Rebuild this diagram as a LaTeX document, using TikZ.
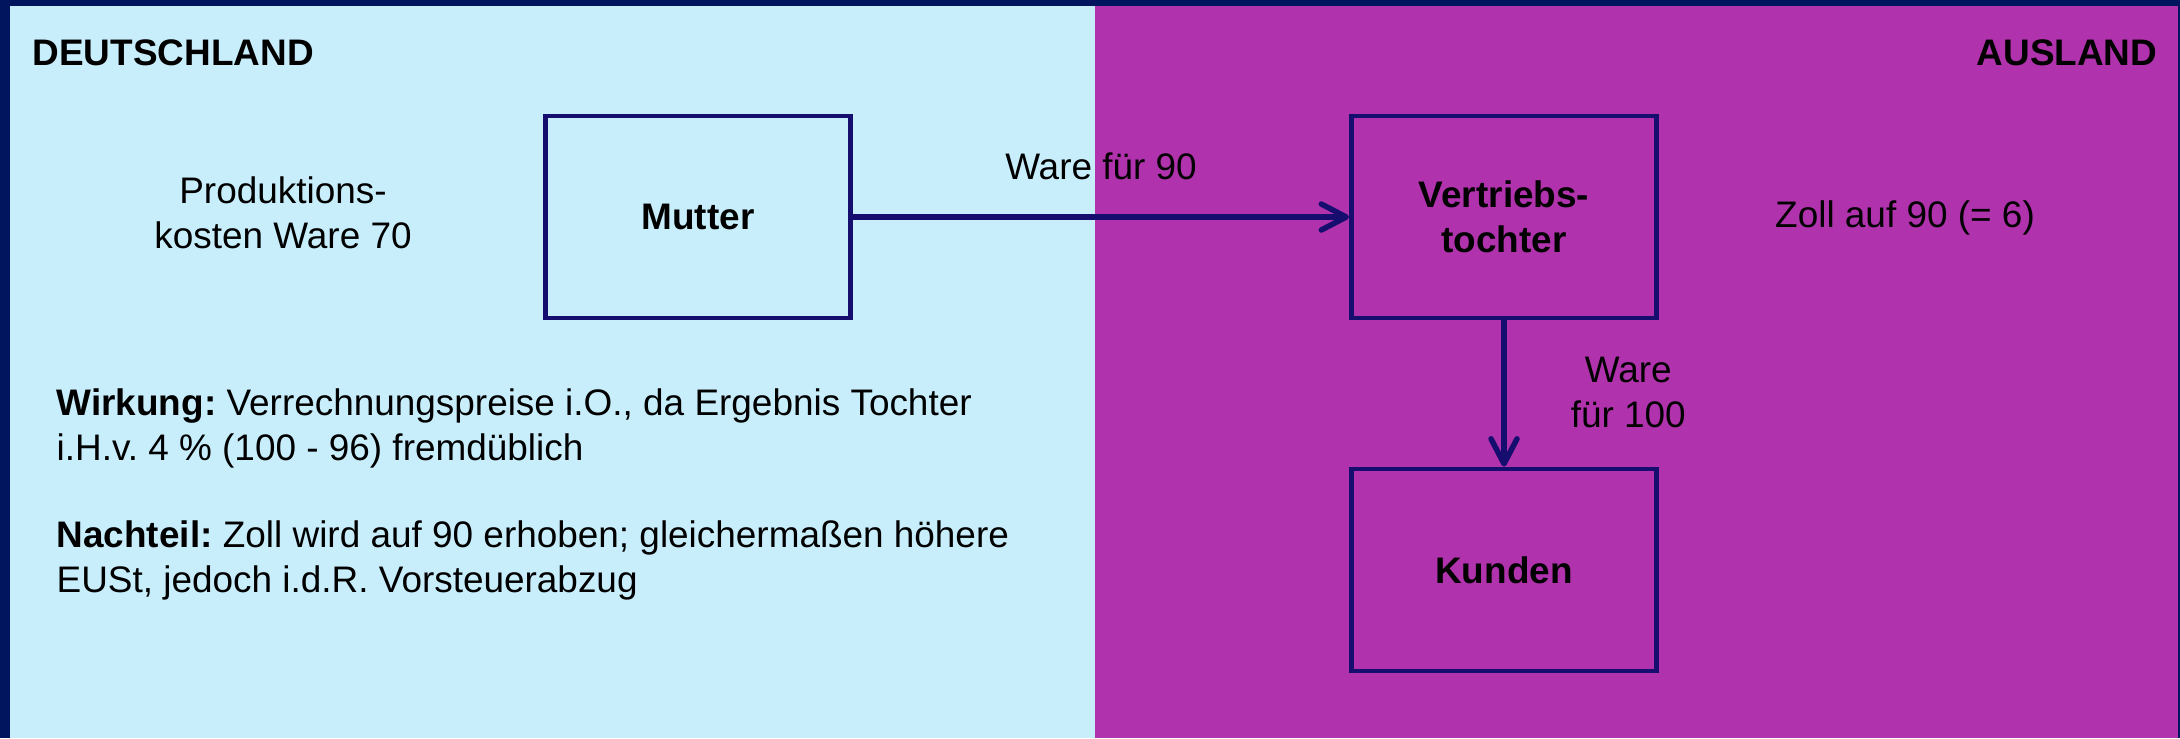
\documentclass[tikz,border=0pt]{standalone}
\usepackage{fontspec}
\setmainfont{Liberation Sans}
\usetikzlibrary{arrows.meta,positioning}
\definecolor{frame}{RGB}{0,21,94}
\definecolor{home}{RGB}{200,238,252}
\definecolor{abroad}{RGB}{176,50,172}
\definecolor{boxline}{RGB}{22,14,110}
\newcommand{\diagfont}{\fontsize{10.5pt}{12.8pt}\selectfont\frenchspacing}
\tikzset{
    entity/.style={
        rectangle,
        draw=boxline,
        line width=1.36pt,
        minimum width=3.05cm,
        minimum height=2.02cm,
        inner sep=0pt,
        align=center,
        font=\diagfont\bfseries
    },
    flow/.style={
        draw=boxline,
        line width=1.56pt,
        -{Straight Barb[length=0.25cm,width=0.26cm,round]}
    },
    note/.style={
        inner sep=0pt,
        font=\diagfont
    },
    region/.style={
        inner sep=0pt,
        font=\diagfont\bfseries
    }
}

\begin{document}
\begin{tikzpicture}[x=0.01cm,y=-0.01cm]
\useasboundingbox (0,0) rectangle (2180,738);
\fill[frame] (0,0) rectangle (2180,738);
\fill[home] (10,6) rectangle (1095,738);
\fill[abroad] (1095,6) rectangle (2178,738);

\node[region,anchor=base west] (de) at (32,65) {DEUTSCHLAND};
\node[region,anchor=base east] (aus) at (2158,65) {AUSLAND};

\node[entity] (mutter) at (698,217) {Mutter};
\node[entity] (vertrieb) at (1504,217) {Vertriebs-\\tochter};
\node[entity] (kunden) at (1504,570) {Kunden};

\node[note,align=center] (kosten) at (283,213) {Produktions-\\kosten Ware 70};
\node[note,anchor=base] (zoll) at (1905,227) {Zoll auf 90 (= 6)};

\node[note,align=left,anchor=base west] (wirkung) at (56,460)
  {\textbf{Wirkung:} Verrechnungspreise i.O., da Ergebnis Tochter\\
   i.H.v. 4 \% (100 - 96) fremdüblich};
\node[note,align=left,anchor=base west] (nachteil) at (56,592)
  {\textbf{Nachteil:} Zoll wird auf 90 erhoben; gleichermaßen höhere\\
   EUSt, jedoch i.d.R. Vorsteuerabzug};

\draw[flow] (mutter) -- node[note,above=0.34cm] {Ware für 90} (vertrieb);
\draw[flow] (vertrieb) -- node[note,right=0.64cm,yshift=0.01cm,align=center] {Ware\\für 100} (kunden);
\end{tikzpicture}
\end{document}
